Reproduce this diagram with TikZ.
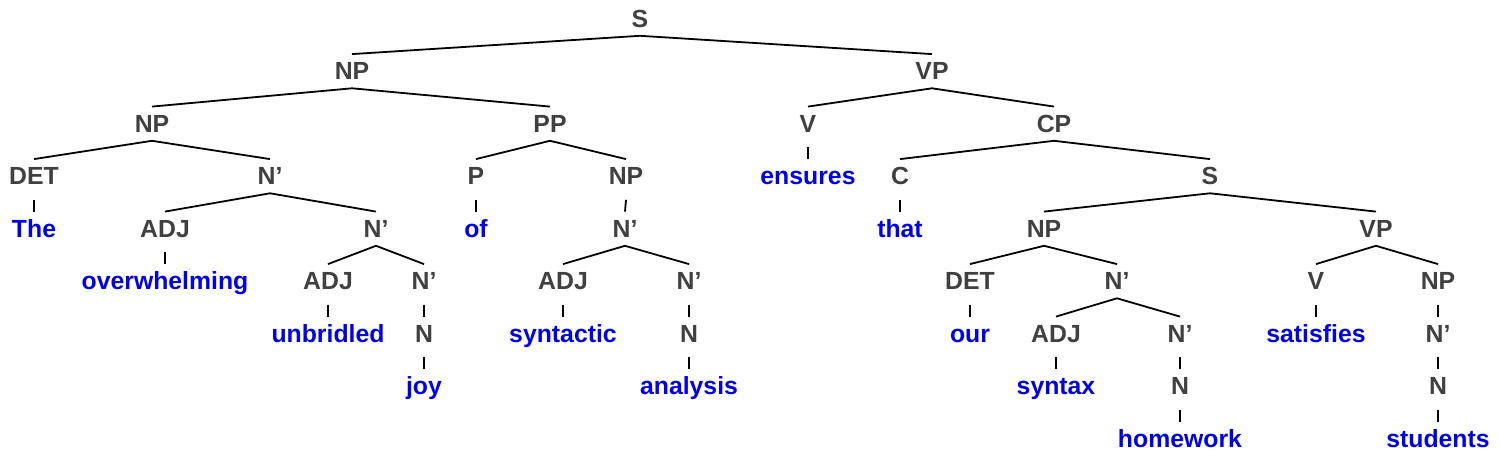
\documentclass[tikz,border=0pt]{standalone}
\usepackage{fontspec}
\setmainfont{Liberation Sans}
\definecolor{lab}{RGB}{64,64,64}
\definecolor{leaf}{RGB}{0,0,240}
\begin{document}
\begin{tikzpicture}[x=0.5pt,y=-0.5pt,
  tn/.style={anchor=base,inner sep=0pt,outer sep=0pt,font=\fontsize{12.4}{14}\selectfont\bfseries,
    text height=12.85pt,text depth=4.25pt},
  cat/.style={tn,text=lab},
  lf/.style={tn,text=leaf},
  br/.style={line width=0.9pt,black},
  un/.style={line width=0.9pt,black}]
\useasboundingbox (0,0) rectangle (1500,459);
% row 0
\node[cat] (S0) at (640,27.3) {S};
% row 1
\node[cat] (NP1) at (352,79.8) {NP};
\node[cat] (VP1) at (932,79.8) {VP};
% row 2
\node[cat] (NP2) at (152,132.3) {NP};
\node[cat] (PP2) at (550,132.3) {PP};
\node[cat] (V2) at (808,132.3) {V};
\node[cat] (CP2) at (1054,132.3) {CP};
% row 3
\node[cat] (DET3) at (34,184.8) {DET};
\node[cat] (Nb3) at (270,184.8) {N’};
\node[cat] (P3) at (476,184.8) {P};
\node[cat] (NP3) at (626,184.8) {NP};
\node[lf] (ensures) at (808,184.8) {ensures};
\node[cat] (C3) at (900,184.8) {C};
\node[cat] (S3) at (1210,184.8) {S};
% row 4
\node[lf] (The) at (34,237.3) {The};
\node[cat] (ADJ4) at (165,237.3) {ADJ};
\node[cat] (Nb4) at (376,237.3) {N’};
\node[lf] (of) at (476,237.3) {of};
\node[cat] (Nb4b) at (625,237.3) {N’};
\node[lf] (that) at (900,237.3) {that};
\node[cat] (NP4) at (1044,237.3) {NP};
\node[cat] (VP4) at (1376,237.3) {VP};
% row 5
\node[lf] (overwhelming) at (165,289.8) {overwhelming};
\node[cat] (ADJ5a) at (328,289.8) {ADJ};
\node[cat] (Nb5a) at (424,289.8) {N’};
\node[cat] (ADJ5b) at (563,289.8) {ADJ};
\node[cat] (Nb5b) at (689,289.8) {N’};
\node[cat] (DET5) at (970,289.8) {DET};
\node[cat] (Nb5c) at (1117,289.8) {N’};
\node[cat] (V5) at (1316,289.8) {V};
\node[cat] (NP5) at (1438,289.8) {NP};
% row 6
\node[lf] (unbridled) at (328,342.3) {unbridled};
\node[cat] (N6a) at (424,342.3) {N};
\node[lf] (syntactic) at (563,342.3) {syntactic};
\node[cat] (N6b) at (689,342.3) {N};
\node[lf] (our) at (970,342.3) {our};
\node[cat] (ADJ6) at (1056,342.3) {ADJ};
\node[cat] (Nb6) at (1180,342.3) {N’};
\node[lf] (satisfies) at (1316,342.3) {satisfies};
\node[cat] (Nb6b) at (1438,342.3) {N’};
% row 7
\node[lf] (joy) at (424,394.8) {joy};
\node[lf] (analysis) at (689,394.8) {analysis};
\node[lf] (syntax) at (1056,394.8) {syntax};
\node[cat] (N7a) at (1180,394.8) {N};
\node[cat] (N7b) at (1438,394.8) {N};
% row 8
\node[lf] (homework) at (1180,447.3) {homework};
\node[lf] (students) at (1438,447.3) {students};
% branching edges
\foreach \p/\a/\b in {S0/NP1/VP1, NP1/NP2/PP2, VP1/V2/CP2, NP2/DET3/Nb3, PP2/P3/NP3,
  CP2/C3/S3, Nb3/ADJ4/Nb4, S3/NP4/VP4, Nb4/ADJ5a/Nb5a, Nb4b/ADJ5b/Nb5b,
  NP4/DET5/Nb5c, VP4/V5/NP5, Nb5c/ADJ6/Nb6}
  \draw[br] (\a.north) -- (\p.south) -- (\b.north);
% unary edges
\foreach \p/\c in {V2/ensures, DET3/The, P3/of, NP3/Nb4b, C3/that, ADJ4/overwhelming,
  ADJ5a/unbridled, Nb5a/N6a, ADJ5b/syntactic, Nb5b/N6b, DET5/our, V5/satisfies,
  NP5/Nb6b, N6a/joy, N6b/analysis, ADJ6/syntax, Nb6/N7a, Nb6b/N7b, N7a/homework,
  N7b/students}
  \draw[un] ([yshift=-3.25pt]\p.south) -- (\c.north);
\end{tikzpicture}
\end{document}
